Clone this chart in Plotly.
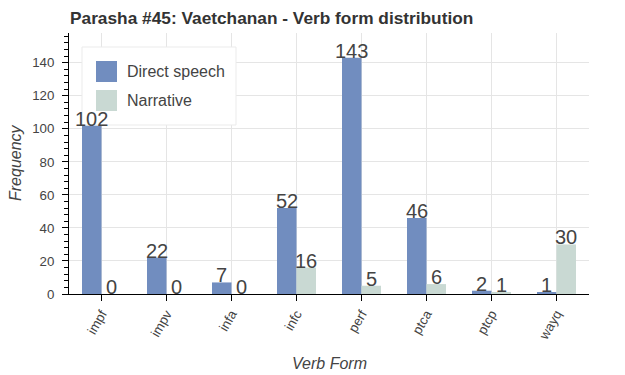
import plotly.graph_objects as go

categories = ["impf", "impv", "infa", "infc", "perf", "ptca", "ptcp", "wayq"]
direct_speech = [102, 22, 7, 52, 143, 46, 2, 1]
narrative = [0, 0, 0, 16, 5, 6, 1, 30]
series_names = ["Direct speech", "Narrative"]

title_text = "Parasha #45: Vaetchanan - Verb form distribution"
x_title = "Verb Form"
y_title = "Frequency"

C_DIRECT = "#718dbf"
C_NARR = "#c9d9d3"
TXT = "#444444"
FONT = "Liberation Sans, Arial, Helvetica, sans-serif"

W, H = 625, 375
L, R, T, B = 69, 36, 33, 81
PW, PH = W - L - R, H - T - B

def px_x(x):
    return (x - L) / PW

def px_y(y):
    return (H - B - y) / PH

fig = go.Figure()
fig.add_trace(go.Bar(x=categories, y=direct_speech, name=series_names[0],
                     marker=dict(color=C_DIRECT, line=dict(width=0)), showlegend=False))
fig.add_trace(go.Bar(x=categories, y=narrative, name=series_names[1],
                     marker=dict(color=C_NARR, line=dict(width=0)), showlegend=False))

annotations = []
for i, (d, n) in enumerate(zip(direct_speech, narrative)):
    for val, off in ((d, -0.15), (n, 0.15)):
        annotations.append(dict(x=i + off, y=val, xref="x", yref="y", text=str(val),
                                showarrow=False, yanchor="bottom", xanchor="center",
                                yshift=-6, font=dict(size=20, color=TXT, family=FONT)))

# axis titles
annotations.append(dict(x=px_x(329), y=px_y(363), xref="paper", yref="paper", text=x_title,
                        showarrow=False, xanchor="center", yanchor="middle",
                        font=dict(size=16, color=TXT, family=FONT, style="italic")))
annotations.append(dict(x=px_x(15), y=px_y(163), xref="paper", yref="paper", text=y_title,
                        showarrow=False, xanchor="center", yanchor="middle", textangle=-90,
                        font=dict(size=16, color=TXT, family=FONT, style="italic")))

# custom legend
shapes = [dict(type="rect", xref="paper", yref="paper", x0=px_x(82), x1=px_x(236),
               y0=px_y(125), y1=px_y(47), fillcolor="white",
               line=dict(color="#ebebeb", width=1), layer="above")]
for j, (nm, col) in enumerate(zip(series_names, [C_DIRECT, C_NARR])):
    top = 61 + j * 29
    shapes.append(dict(type="rect", xref="paper", yref="paper", x0=px_x(96), x1=px_x(117),
                       y0=px_y(top + 21), y1=px_y(top), fillcolor=col,
                       line=dict(width=0), layer="above"))
    annotations.append(dict(x=px_x(125), y=px_y(top + 10.5), xref="paper", yref="paper",
                            text=nm, showarrow=False, xanchor="left", yanchor="middle",
                            font=dict(size=16, color=TXT, family=FONT)))

fig.update_layout(
    width=W, height=H,
    margin=dict(l=L, r=R, t=T, b=B),
    paper_bgcolor="white", plot_bgcolor="white",
    barmode="group", bargap=0.4, bargroupgap=0,
    font=dict(family=FONT, color=TXT),
    title=dict(text="<b>" + title_text + "</b>", x=70 / W, xanchor="left", xref="container",
               y=1 - 18 / H, yanchor="middle", yref="container",
               font=dict(size=17.3, color="#333333", family=FONT)),
    annotations=annotations,
    shapes=shapes,
    showlegend=False,
)
fig.update_xaxes(
    type="category", range=[-0.5, 7.5],
    showgrid=True, gridcolor="#e5e5e5", gridwidth=1,
    showline=True, linecolor="black", linewidth=1,
    ticks="outside", ticklen=6, tickcolor="black",
    tickangle=-60, tickfont=dict(size=13.3, color=TXT, family=FONT),
    zeroline=False,
)
fig.update_yaxes(
    range=[0, 158], dtick=20, tick0=0,
    showgrid=True, gridcolor="#e5e5e5", gridwidth=1,
    showline=True, linecolor="black", linewidth=1,
    ticks="outside", ticklen=6, tickcolor="black",
    minor=dict(dtick=4, ticks="outside", ticklen=4, tickcolor="black", showgrid=False),
    tickfont=dict(size=13.3, color=TXT, family=FONT),
    ticklabelstandoff=5,
    zeroline=False,
)
fig.write_html("out.html", config={"displayModeBar": False},
               post_script="document.body.style.margin='0';document.body.style.overflow='hidden';")
